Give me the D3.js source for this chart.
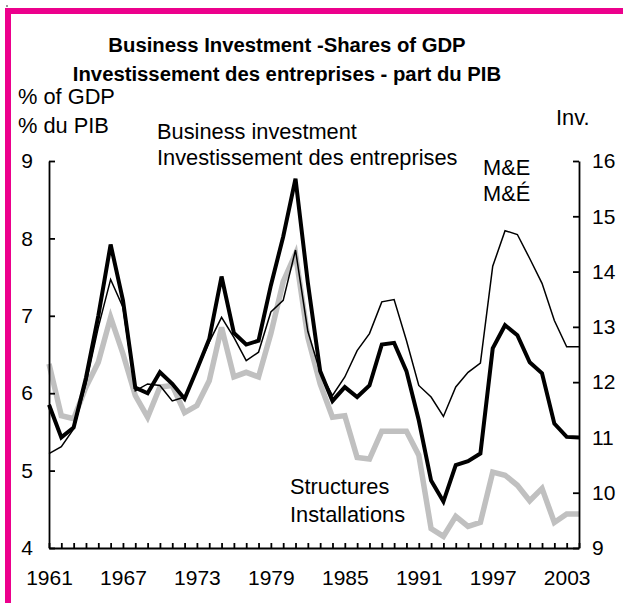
<!DOCTYPE html>
<html>
<head>
<meta charset="utf-8">
<script src="https://cdn.jsdelivr.net/npm/d3@7"></script>
<style>
  html, body { margin: 0; padding: 0; background: #fff; }
  svg { display: block; }
  text { font-family: "Liberation Sans", Arial, sans-serif; fill: #000; }
</style>
</head>
<body>
<svg id="chart" width="623" height="603"></svg>
<script>
const years = d3.range(1961, 2005);
// Business investment, % of GDP (right axis)
const businessInv = [11.59, 11.0, 11.18, 12.08, 13.2, 14.49, 13.48, 11.9, 11.8, 12.18,
  11.97, 11.7, 12.23, 12.78, 13.91, 12.89, 12.68, 12.75, 13.75, 14.63,
  15.68, 13.8, 12.2, 11.66, 11.91, 11.73, 11.94, 12.68, 12.71, 12.2,
  11.31, 10.22, 9.84, 10.5, 10.57, 10.71, 12.61, 13.03, 12.85, 12.36,
  12.16, 11.25, 11.01, 11.0];
// Machinery & equipment, % of GDP (left axis)
const machEquip = [5.22, 5.31, 5.54, 6.12, 6.85, 7.47, 7.11, 6.03, 6.12, 6.1,
  5.9, 5.95, 6.3, 6.66, 6.98, 6.72, 6.42, 6.53, 7.05, 7.2,
  7.85, 6.8, 6.27, 5.97, 6.21, 6.55, 6.77, 7.18, 7.21, 6.68,
  6.1, 5.95, 5.7, 6.08, 6.27, 6.39, 7.64, 8.1, 8.05, 7.74,
  7.42, 6.94, 6.6, 6.6];
// Structures, % of GDP (left axis)
const structures = [6.38, 5.71, 5.67, 6.08, 6.4, 6.98, 6.51, 5.97, 5.69, 6.08,
  6.1, 5.75, 5.84, 6.16, 6.85, 6.21, 6.27, 6.21, 6.77, 7.44,
  7.8, 6.72, 6.12, 5.69, 5.71, 5.17, 5.15, 5.51, 5.51, 5.51,
  5.2, 4.25, 4.15, 4.41, 4.28, 4.33, 4.98, 4.94, 4.81, 4.61,
  4.77, 4.33, 4.44, 4.44];
const leftTicks = [4, 5, 6, 7, 8, 9];
const rightTicks = [9, 10, 11, 12, 13, 14, 15, 16];
const yearLabels = [1961, 1967, 1973, 1979, 1985, 1991, 1997, 2003];

const svg = d3.select("#chart");

// pink frame
svg.append("rect").attr("x", 8).attr("y", 11).attr("width", 640).attr("height", 620)
  .attr("fill", "none").attr("stroke", "#EC008C").attr("stroke-width", 6);
svg.append("rect").attr("x", 6).attr("y", 5).attr("width", 2).attr("height", 2).attr("fill", "#999");

const x = d3.scaleLinear().domain([1961, 2004]).range([49, 579]);
const yL = d3.scaleLinear().domain([4, 9]).range([548, 161]);
const yR = d3.scaleLinear().domain([9, 16]).range([548, 161]);

const lineL = d3.line().x((d, i) => x(years[i])).y(d => yL(d));
const lineR = d3.line().x((d, i) => x(years[i])).y(d => yR(d));

svg.append("path").datum(structures).attr("d", lineL)
  .attr("fill", "none").attr("stroke", "#C0C0C0").attr("stroke-width", 5.5);
svg.append("path").datum(machEquip).attr("d", lineL)
  .attr("fill", "none").attr("stroke", "#000").attr("stroke-width", 1.5);
svg.append("path").datum(businessInv).attr("d", lineR)
  .attr("fill", "none").attr("stroke", "#000").attr("stroke-width", 4);

function styleAxis(g) {
  g.selectAll("path, line").attr("stroke", "#000").attr("stroke-width", 1.8);
  g.selectAll("text").attr("font-size", 21).attr("font-family", '"Liberation Sans", Arial, sans-serif').attr("fill", "#000");
}

svg.append("g").attr("transform", "translate(49,0)")
  .call(d3.axisLeft(yL).tickValues(leftTicks).tickSizeInner(-6).tickSizeOuter(0).tickPadding(16).tickFormat(d3.format("d")))
  .call(styleAxis);
svg.append("g").attr("transform", "translate(579,0)")
  .call(d3.axisRight(yR).tickValues(rightTicks).tickSizeInner(-6).tickSizeOuter(0).tickPadding(13).tickFormat(d3.format("d")))
  .call(styleAxis);
svg.append("g").attr("transform", "translate(0,548)")
  .call(d3.axisBottom(x).tickValues(years).tickSizeInner(-5).tickSizeOuter(0).tickPadding(22)
    .tickFormat(d => yearLabels.includes(d) ? String(d) : ""))
  .call(styleAxis);

function label(txt, xx, yy, opts = {}) {
  svg.append("text").attr("x", xx).attr("y", yy).text(txt)
    .attr("font-size", opts.size || 21.8)
    .attr("font-weight", opts.weight || "normal")
    .attr("text-anchor", opts.anchor || "start");
}
label("Business Investment -Shares of GDP", 287, 52, {size: 20.3, weight: "bold", anchor: "middle"});
label("Investissement des entreprises - part du PIB", 287, 81, {size: 20.3, weight: "bold", anchor: "middle"});
label("% of GDP", 18, 104);
label("% du PIB", 18, 133);
label("Business investment", 157, 139);
label("Investissement des entreprises", 157, 165);
label("Inv.", 556, 125);
label("M&E", 483, 175);
label("M&É", 483, 201);
label("Structures", 290, 494);
label("Installations", 290, 522);
</script>
</body>
</html>
